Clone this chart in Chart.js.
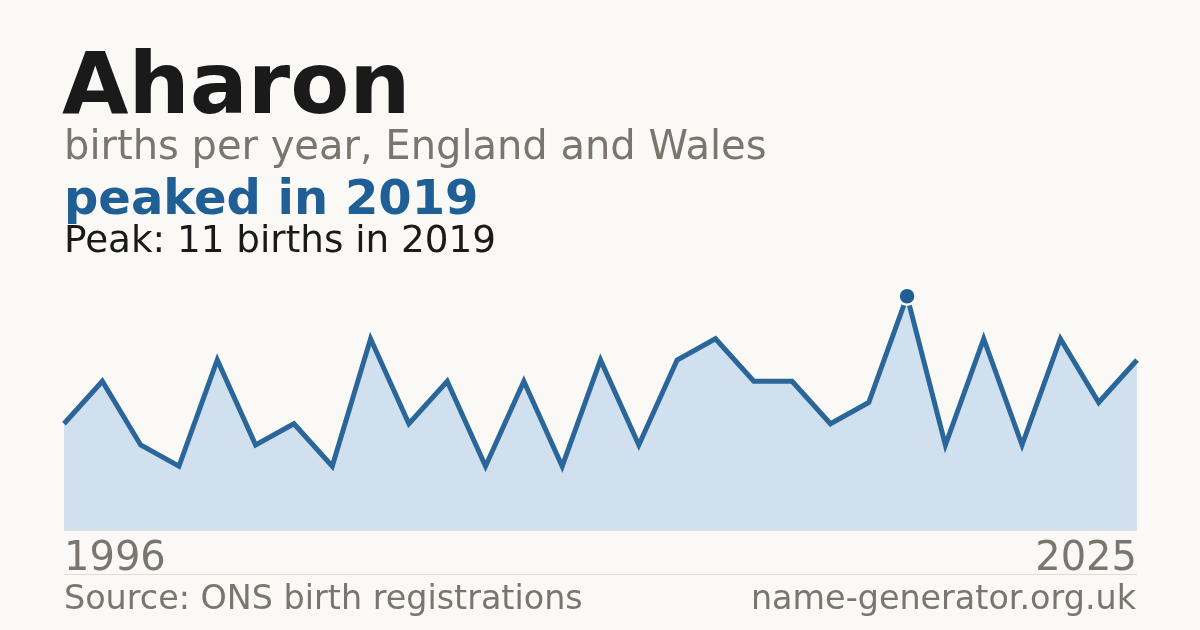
<!DOCTYPE html>
<html>
<head>
<meta charset="utf-8">
<script src="https://cdn.jsdelivr.net/npm/chart.js@4"></script>
<style>
  html, body { margin:0; padding:0; background:#faf9f5; }
  #wrap { position:relative; width:1200px; height:630px; overflow:hidden; background:#faf9f5; font-family:"DejaVu Sans", sans-serif; }
  #c { position:absolute; left:0; top:0; }
  .t { position:absolute; white-space:nowrap; }
  .rule { position:absolute; left:64px; width:1073px; height:1px; }
</style>
</head>
<body>
<div id="wrap">
  <canvas id="c" width="1200" height="630"></canvas>
  <div class="rule" style="top:530px;background:#e3dfd7;"></div>
  <div class="rule" style="top:574px;background:#e0dcd4;"></div>
  <div class="t" id="title" style="left:62px;top:39.6px;font-size:86px;line-height:86px;font-weight:bold;color:#1a1a1a;"></div>
  <div class="t" id="sub" style="left:64px;top:125px;font-size:40px;line-height:40px;color:#7a766f;"></div>
  <div class="t" id="head" style="left:64px;top:173px;font-size:48px;line-height:48px;font-weight:bold;color:#1f5f96;"></div>
  <div class="t" id="peak" style="left:64px;top:221.4px;font-size:37.3px;line-height:37.3px;color:#1a1a1a;"></div>
  <div class="t" id="xl" style="left:64px;top:536px;font-size:40px;line-height:40px;color:#7a766f;"></div>
  <div class="t" id="xr" style="right:63px;top:536px;font-size:40px;line-height:40px;color:#7a766f;"></div>
  <div class="t" id="src" style="left:64px;top:580.8px;font-size:33.4px;line-height:33.4px;color:#7a766f;"></div>
  <div class="t" id="site" style="right:64px;top:580.8px;font-size:33.4px;line-height:33.4px;color:#7a766f;"></div>
</div>
<script>
const years = [1997,1998,1999,2000,2001,2002,2003,2004,2005,2006,2007,2008,2009,2010,2011,2012,2013,2014,2015,2016,2017,2018,2019,2020,2021,2022,2023,2024,2025];
const births = [5,7,4,3,8,4,5,3,9,5,7,3,7,3,8,4,8,9,7,7,5,6,11,4,9,4,9,6,8];
const tickLabels = ["1996","2025"];
const titleText = "Aharon";
const subtitleText = "births per year, England and Wales";
const headlineText = "peaked in 2019";
const peakText = "Peak: 11 births in 2019";
const sourceText = "Source: ONS birth registrations";
const siteText = "name-generator.org.uk";

document.getElementById('title').textContent = titleText;
document.getElementById('sub').textContent = subtitleText;
document.getElementById('head').textContent = headlineText;
document.getElementById('peak').textContent = peakText;
document.getElementById('xl').textContent = tickLabels[0];
document.getElementById('xr').textContent = tickLabels[1];
document.getElementById('src').textContent = sourceText;
document.getElementById('site').textContent = siteText;

const peakVal = Math.max(...births);
const peakIdx = births.indexOf(peakVal);
const peakData = births.map((v,i) => i === peakIdx ? v : null);

new Chart(document.getElementById('c'), {
  type: 'line',
  data: {
    labels: years.map(String),
    datasets: [
      {
        data: peakData,
        showLine: false,
        pointRadius: 8.5,
        pointBorderWidth: 2.5,
        pointBackgroundColor: '#1f5f96',
        pointBorderColor: '#faf9f5',
        clip: false,
        order: 0
      },
      {
        data: births,
        borderColor: '#2b669b',
        borderWidth: 5,
        borderCapStyle: 'butt',
        borderJoinStyle: 'miter',
        backgroundColor: '#d0e0ef',
        fill: 'origin',
        tension: 0,
        pointRadius: 0,
        order: 1
      }
    ]
  },
  options: {
    responsive: false,
    animation: false,
    devicePixelRatio: 1,
    layout: { padding: { left: 64, right: 63, top: 275, bottom: 100 } },
    plugins: { legend: { display: false }, tooltip: { enabled: false } },
    scales: {
      x: { display: false },
      y: { display: false, min: 0, max: 12 }
    }
  }
});
</script>
</body>
</html>
